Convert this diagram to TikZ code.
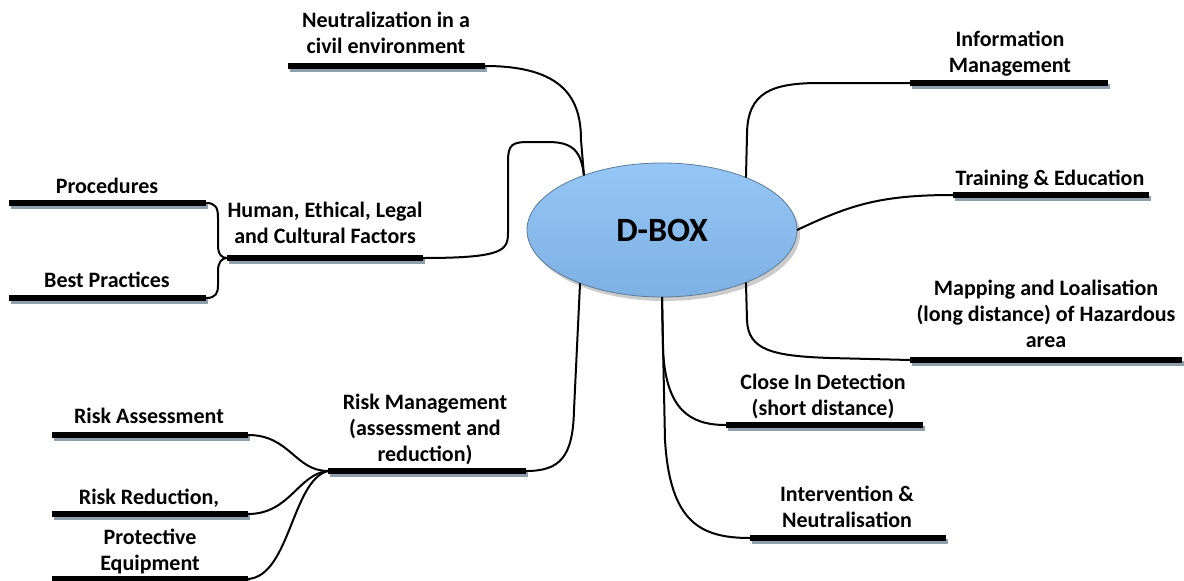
\documentclass[tikz,border=0pt]{standalone}
\usepackage{fontspec}
\setmainfont{Carlito}
\usetikzlibrary{shapes.geometric}
\definecolor{barshadow}{HTML}{8E9FAE}
\definecolor{elltop}{HTML}{95C6F5}
\definecolor{ellbot}{HTML}{7DB0E3}
\definecolor{ellborder}{HTML}{5B7B98}
\tikzset{
  lbl/.style={font=\fontsize{22}{26}\selectfont\bfseries, align=center, inner sep=0pt, anchor=base},
  barline/.style={line width=6pt, black},
  barshade/.style={line width=5pt, barshadow},
  conn/.style={line width=2pt, black},
}
\newcommand{\branchbar}[4]{% name, xL, xR, y
  \coordinate (#1L) at (#2,#4);
  \coordinate (#1R) at (#3,#4);
  \draw[barshade] ([shift={(2,3)}]#1L) -- ([shift={(2,3)}]#1R);
  \draw[barline] (#1L) -- (#1R);
}
\begin{document}
\begin{tikzpicture}[x=1pt,y=-1pt]
\useasboundingbox (0,0) rectangle (1184,581);

% central ellipse
\fill[gray!40] (665,234) ellipse [x radius=135, y radius=67];
\node[ellipse, draw=ellborder, line width=0.8pt, top color=elltop, bottom color=ellbot,
      minimum width=270pt, minimum height=134pt, inner sep=0pt, outer sep=0pt,
      font=\fontsize{34}{40}\selectfont\bfseries] (dbox) at (662,230) {D-BOX};

% bars
\branchbar{neut}{288}{485}{66}
\branchbar{info}{910}{1108}{83}
\branchbar{train}{953}{1149}{195}
\branchbar{map}{910}{1182}{360}
\branchbar{close}{726}{923}{425}
\branchbar{interv}{750}{946}{538}
\branchbar{human}{227}{423}{258}
\branchbar{proc}{9}{206}{203}
\branchbar{best}{9}{206}{298}
\branchbar{riskm}{328}{526}{471}
\branchbar{rassess}{52}{248}{435}
\branchbar{rreduc}{52}{248}{514}
\branchbar{prot}{52}{248}{579}

% labels
\node[lbl] (tneut) at (386,53) {Neutralization in a\\civil environment};
\node[lbl] (tinfo) at (1010,72) {Information\\Management};
\node[lbl] (ttrain) at (1050,185) {Training \& Education};
\node[lbl] (tmap) at (1046,347) {Mapping and Loalisation\\(long distance) of Hazardous\\area};
\node[lbl] (tclose) at (823,415) {Close In Detection\\(short distance)};
\node[lbl] (tinterv) at (847,527) {Intervention \&\\Neutralisation};
\node[lbl] (thuman) at (325,243) {Human, Ethical, Legal\\and Cultural Factors};
\node[lbl] (tproc) at (107,193) {Procedures};
\node[lbl] (tbest) at (107,287) {Best Practices};
\node[lbl] (triskm) at (425,461) {Risk Management\\(assessment and\\reduction)};
\node[lbl] (trassess) at (149,423) {Risk Assessment};
\node[lbl] (trreduc) at (149,504) {Risk Reduction,};
\node[lbl] (tprot) at (150,570) {Protective\\Equipment};

% connectors to the ellipse
\draw[conn] (neutR) .. controls (565,66) and (581,100) .. (581,140) -- (dbox.145.8);
\draw[conn] (humanR) .. controls (505,258) and (508,250) .. (508,232) -- (508,162)
  .. controls (508,144) and (512,142) .. (530,142) -- (548,142)
  .. controls (574,142) and (581,152) .. (dbox.145.8);
\draw[conn] (dbox.32.9) -- (747,135) .. controls (747,92) and (772,83) .. (820,83) -- (infoL);
\draw[conn] (dbox.0) .. controls (850,205) and (880,195) .. (trainL);
\draw[conn] (dbox.-32.9) -- (747,320) .. controls (748,350) and (772,356) .. (830,358) -- (mapL);
\draw[conn] (dbox.-90) -- (663,350) .. controls (666,410) and (690,425) .. (closeL);
\draw[conn] (dbox.-90) -- (665,440) .. controls (670,522) and (700,538) .. (intervL);
\draw[conn] (riskmR) .. controls (560,471) and (573,457) .. (574,410) -- (dbox.-147.9);

% sub-branches
\draw[conn] (procR) .. controls (216,203) and (218,208) .. (218,218) -- (218,245)
  .. controls (218,255) and (222,258) .. (humanL);
\draw[conn] (bestR) .. controls (216,298) and (218,293) .. (218,285) -- (218,271)
  .. controls (218,262) and (222,258) .. (humanL);
\draw[conn] (rassessR) .. controls (290,435) and (295,471) .. (riskmL);
\draw[conn] (rreducR) .. controls (290,514) and (298,474) .. (riskmL);
\draw[conn] (protR) .. controls (290,576) and (292,480) .. (riskmL);
\end{tikzpicture}
\end{document}
